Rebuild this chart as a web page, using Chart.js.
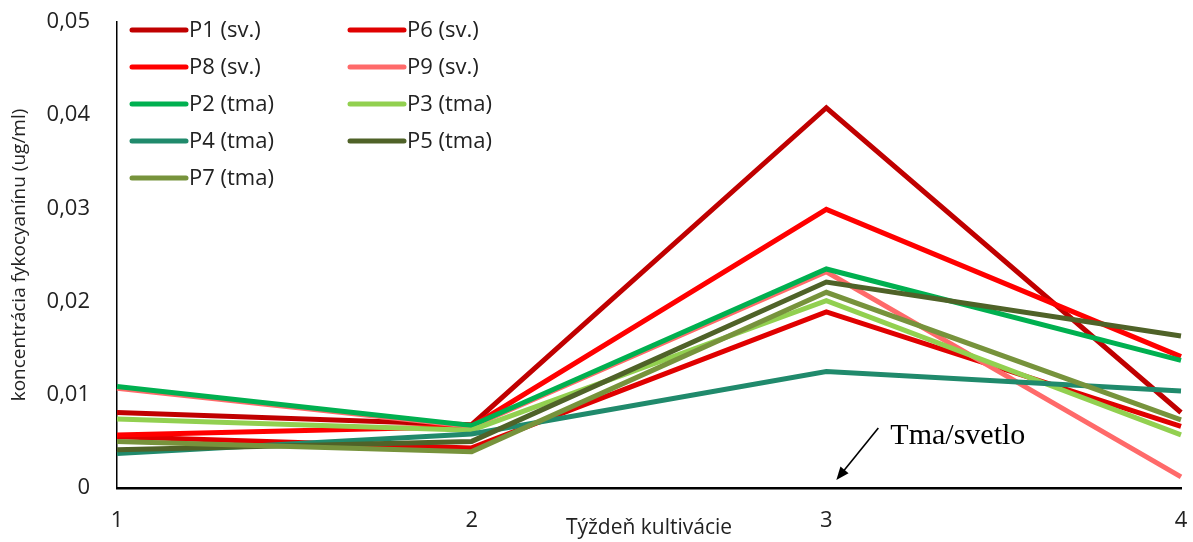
<!DOCTYPE html>
<html>
<head>
<meta charset="utf-8">
<script src="https://cdn.jsdelivr.net/npm/chart.js@4"></script>
<style>
  html, body { margin: 0; padding: 0; background: #fff; }
  #wrap { width: 1193px; height: 542px; }
</style>
</head>
<body>
<div id="wrap"><canvas id="c" width="1193" height="542"></canvas></div>
<script>
'use strict';

// weeks of cultivation
const weeks = ['1', '2', '3', '4'];

const seriesNames = ['P1 (sv.)', 'P6 (sv.)', 'P8 (sv.)', 'P9 (sv.)', 'P2 (tma)', 'P3 (tma)', 'P4 (tma)', 'P5 (tma)', 'P7 (tma)'];
const seriesColors = ['#C00000', '#E00000', '#FF0000', '#FF6A6A', '#00B050', '#92D050', '#208A6C', '#4F6228', '#77933C'];

// values (ug/ml)
const p1 = [0.0081, 0.0068, 0.0408, 0.0081];
const p6 = [0.0055, 0.0043, 0.0189, 0.0066];
const p8 = [0.0057, 0.0066, 0.0299, 0.0141];
const p9 = [0.0107, 0.0066, 0.0232, 0.0012];
const p2 = [0.0109, 0.0067, 0.0235, 0.0137];
const p3 = [0.0074, 0.0062, 0.0201, 0.0057];
const p4 = [0.0037, 0.0058, 0.0125, 0.0104];
const p5 = [0.0041, 0.0050, 0.0221, 0.0163];
const p7 = [0.0050, 0.0039, 0.0210, 0.0073];
const seriesValues = [p1, p6, p8, p9, p2, p3, p4, p5, p7];

const yTicks = [0, 0.01, 0.02, 0.03, 0.04, 0.05];

const datasets = seriesNames.map((name, i) => ({
    label: name,
    data: seriesValues[i],
    borderColor: seriesColors[i],
    backgroundColor: seriesColors[i],
    borderWidth: 5,
    pointRadius: 0,
    tension: 0,
    order: seriesNames.length - i // later series drawn on top, like Excel
}));

// legend drawn inside the plot, two columns
const legendInside = {
    id: 'legendInside',
    afterDraw(chart) {
        const ctx = chart.ctx;
        const left = chart.chartArea.left;
        const top = chart.chartArea.top;
        ctx.save();
        ctx.font = '22px "Open Sans"';
        ctx.textBaseline = 'middle';
        chart.data.datasets.forEach((ds, i) => {
            const col = i % 2;
            const row = Math.floor(i / 2);
            const x = left + 15 + col * 218;
            const y = top + 8 + row * 37;
            ctx.strokeStyle = ds.borderColor;
            ctx.lineWidth = 5;
            ctx.lineCap = 'round';
            ctx.beginPath();
            ctx.moveTo(x, y);
            ctx.lineTo(x + 54, y);
            ctx.stroke();
            ctx.fillStyle = '#222';
            ctx.textAlign = 'left';
            ctx.fillText(ds.label, x + 57, y + 1);
        });
        ctx.restore();
    }
};

// x title between tick labels and the "Tma/svetlo" note with its arrow
const extras = {
    id: 'extras',
    afterDraw(chart) {
        const ctx = chart.ctx;
        const xs = chart.scales.x;
        const ys = chart.scales.y;
        ctx.save();
        ctx.fillStyle = '#222';
        ctx.font = '21px "Open Sans"';
        ctx.textAlign = 'center';
        ctx.textBaseline = 'middle';
        ctx.fillText('Týždeň kultivácie', (xs.left + xs.right) / 2, ys.bottom + 40);

        const x3 = xs.getPixelForValue(2);
        const yb = ys.bottom;
        ctx.font = '30px "Liberation Serif"';
        ctx.textAlign = 'left';
        ctx.fillStyle = '#000';
        ctx.fillText('Tma/svetlo', x3 + 64, yb - 52);

        // arrow
        const ax0 = x3 + 52, ay0 = yb - 60;
        const ax1 = x3 + 10, ay1 = yb - 8;
        ctx.strokeStyle = '#000';
        ctx.lineWidth = 1.6;
        ctx.beginPath();
        ctx.moveTo(ax0, ay0);
        ctx.lineTo(ax1 + 4, ay1 - 5);
        ctx.stroke();
        const ang = Math.atan2(ay1 - ay0, ax1 - ax0);
        ctx.fillStyle = '#000';
        ctx.beginPath();
        ctx.moveTo(ax1, ay1);
        ctx.lineTo(ax1 - 14 * Math.cos(ang - 0.38), ay1 - 14 * Math.sin(ang - 0.38));
        ctx.lineTo(ax1 - 14 * Math.cos(ang + 0.38), ay1 - 14 * Math.sin(ang + 0.38));
        ctx.closePath();
        ctx.fill();
        ctx.restore();
    }
};

new Chart(document.getElementById('c'), {
    type: 'line',
    data: { labels: weeks, datasets: datasets },
    options: {
        responsive: false,
        animation: false,
        layout: { padding: { top: 22, right: 12, left: 0, bottom: 0 } },
        plugins: {
            legend: { display: false },
            tooltip: { enabled: false }
        },
        scales: {
            x: {
                offset: false,
                grid: { display: false, drawTicks: false },
                border: { display: true, color: '#000', width: 2.5 },
                ticks: { color: '#222', font: { family: 'Open Sans', size: 22 }, padding: 20, maxRotation: 0 },
                afterFit(scale) {
                    scale.height = 54;
                    scale.paddingLeft = 0;
                    scale.paddingRight = 0;
                }
            },
            y: {
                min: 0,
                max: 0.05,
                afterBuildTicks(scale) { scale.ticks = yTicks.map(v => ({ value: v })); },
                grid: { display: false, drawTicks: false },
                border: { display: true, color: '#000', width: 1.5 },
                ticks: {
                    color: '#222',
                    font: { family: 'Open Sans', size: 22 },
                    padding: 27,
                    callback: v => v === 0 ? '0' : v.toFixed(2).replace('.', ',')
                },
                title: {
                    display: true,
                    text: 'koncentrácia fykocyanínu (ug/ml)',
                    color: '#222',
                    font: { family: 'Open Sans', size: 19 },
                    padding: { top: 8, bottom: 0 }
                },
                afterFit(scale) {
                    scale.width = 117;
                    scale.paddingTop = 0;
                    scale.paddingBottom = 0;
                }
            }
        }
    },
    plugins: [legendInside, extras]
});
</script>
</body>
</html>
